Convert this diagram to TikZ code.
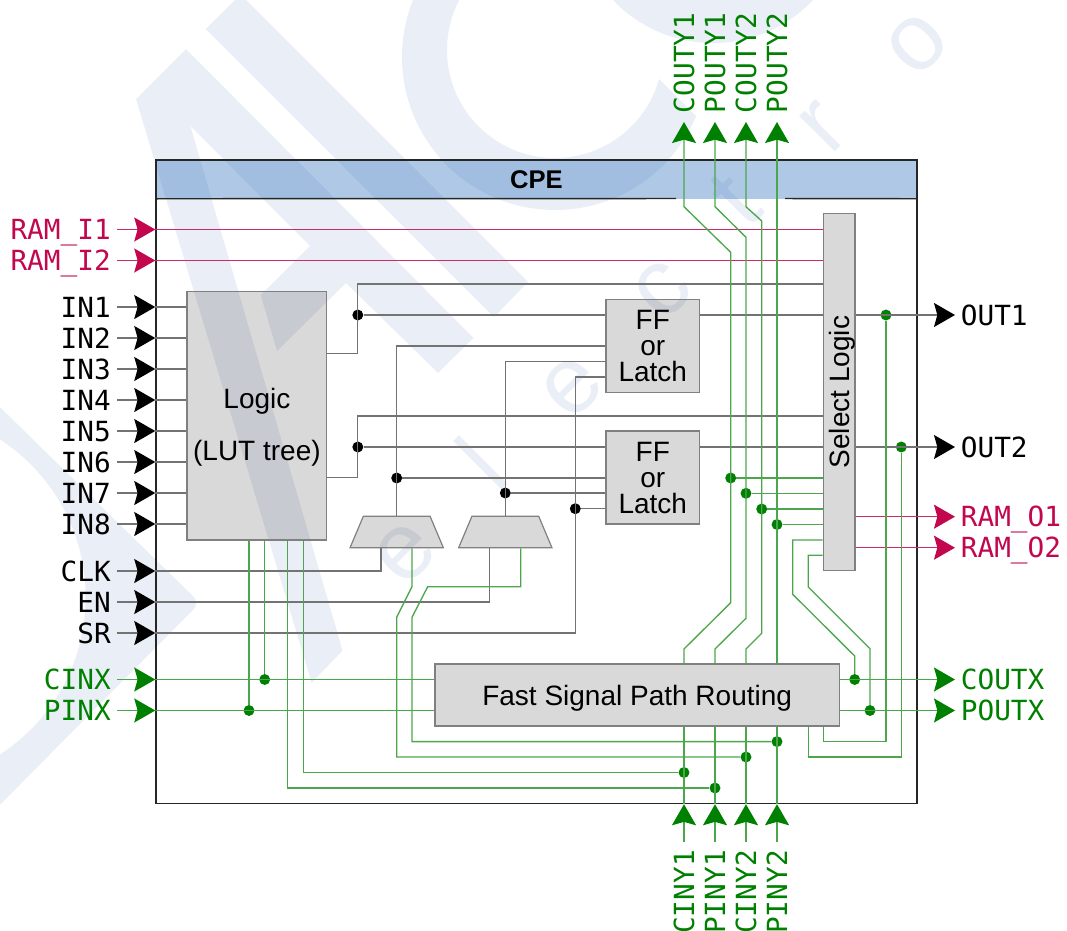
\documentclass[tikz,border=0pt]{standalone}
\usepackage{fontspec}
\usepackage{xcolor}
\usepackage{tikz}
\usetikzlibrary{arrows.meta,shapes.geometric}
\setmainfont{Liberation Sans}
\newfontfamily\pinfont{DejaVu Sans Mono}
\definecolor{wmblue}{HTML}{EAEEF6}
\definecolor{hdblue}{RGB}{52,117,192}
\definecolor{ramred}{HTML}{C2074F}
\definecolor{pingreen}{HTML}{008000}

\begin{document}
\begin{tikzpicture}[
    x=0.75pt, y=-0.75pt,
    >={Stealth[length=15.75pt,width=18pt,inset=2.5pt]},
    wm/.style={fill=wmblue, draw=none},
    wmtext/.style={text=wmblue, rotate=45, font=\fontsize{71pt}{71pt}\selectfont, inner sep=0pt},
    box/.style={rectangle, draw=black!50, line width=0.9pt, fill=black, fill opacity=0.15, text opacity=1, draw opacity=1, inner sep=0pt, align=center, font=\fontsize{21pt}{19.5pt}\selectfont},
    mux/.style={trapezium, trapezium stretches=true, trapezium left angle=63.7, trapezium right angle=63.7, draw=black!50, line width=0.9pt, fill=black, fill opacity=0.15, draw opacity=1, inner sep=0pt, minimum width=70pt, minimum height=23.5pt},
    pin/.style={font=\pinfont\fontsize{20.8pt}{24pt}\selectfont, text height=15pt, text depth=0pt},
    pinleft/.style={pin, anchor=east, inner sep=4.5pt},
    pinright/.style={pin, anchor=west, inner sep=4.2pt},
    pinup/.style={pin, rotate=90, anchor=west, inner sep=6.5pt},
    pindown/.style={pin, rotate=90, anchor=east, inner sep=6pt},
    sig/.style={draw=black!55, line width=1pt},
    grn/.style={draw=pingreen!70, line width=1pt},
    ram/.style={draw=ramred!85, line width=1pt},
    tipblack/.style={sig, arrows={-Stealth[length=15.75pt,width=18pt,inset=2.5pt,black]}},
    tipgreen/.style={grn, arrows={-Stealth[length=15.75pt,width=18pt,inset=2.5pt,pingreen]}},
    tipred/.style={ram, arrows={-Stealth[length=15.75pt,width=18pt,inset=2.5pt,ramred]}},
    dotblack/.style={circle, fill=black, inner sep=0pt, minimum size=8.2pt},
    dotgreen/.style={circle, fill=pingreen, inner sep=0pt, minimum size=8.2pt},
    frameline/.style={draw=black!85, line width=1.1pt}
]
    \useasboundingbox (0,0) rectangle (1067,931);

    % Watermark
    \begin{scope}
        \clip (0,0) rectangle (1067,931);
        \fill[wm] (-40,368) [rounded corners=7pt] -- (200,603) -- (-40,845) [sharp corners] -- cycle;
        \fill[white] (-102,597) circle [radius=187.5];
        \fill[wm] (136,99) -- (186,49) -- (473.5,338) -- (438,373) -- (346,283) -- (277,351) -- (260.7,295) -- (310,246) -- (190.4,126) -- (342.6,650.7) -- (311.6,682.7) -- cycle;
        \fill[wm] (205.6,29) -- (235,0) -- (246,0) -- (528,282) -- (494,317) -- cycle;
        \begin{scope}
            \clip (380,0) -- (560,0) -- (658,78) -- (720,140) -- (720,230) -- (380,230) -- cycle;
            \fill[wm, even odd rule] (555,57) circle [radius=153] (555,50) circle [radius=108];
        \end{scope}
        \fill[wm] (713,-95) circle [radius=138];
    \end{scope}
    \node[wmtext] (wme) at (405,553) {e};
    \node[wmtext] (wml) at (481,463) {l};
    \node[wmtext] (wmf) at (572,387) {e};
    \node[wmtext] (wmc) at (663,290) {c};
    \node[wmtext] (wmt) at (735,200) {t};
    \node[wmtext] (wmr) at (824,127) {r};
    \node[wmtext] (wmo) at (917,44) {o};

    % Frame and header
    \node[rectangle, fill=hdblue, fill opacity=0.4, text opacity=1, inner sep=0pt, minimum width=570.75pt, minimum height=28.5pt, font=\bfseries\fontsize{19.2pt}{24pt}\selectfont] (cpe) at (536.5,179.5) {CPE};
    \node[rectangle, frameline, minimum width=570.75pt, minimum height=482.6pt] (frame) at (536.5,481.75) {};
    \draw[frameline] (cpe.south west) -- (676,198.5);
    \draw[frameline] (785,198.5) -- (cpe.south east);

    % Blocks
    \node[box, minimum width=104.85pt, minimum height=186.2pt] (lut) at (256.9,415.8) {\rule{0pt}{33pt}Logic\\[18.5pt](LUT tree)};
    \node[box, minimum width=70.1pt, minimum height=69.75pt] (ff1) at (652.75,345.8) {FF\\or\\Latch};
    \node[box, minimum width=70.1pt, minimum height=69.75pt] (ff2) at (652.75,477.5) {FF\\or\\Latch};
    \node[box, rotate=90, text height=15pt, text depth=0pt, minimum width=267.9pt, minimum height=23.8pt] (sel) at (839.2,392.1) {Select Logic};
    \node[box, text height=15pt, text depth=0pt, minimum width=303.2pt, minimum height=46.5pt] (route) at (637.15,695) {Fast Signal Path Routing};
    \node[mux] (mux1) at (396.7,532) {\phantom{\rule{20pt}{8pt}}};
    \node[mux] (mux2) at (505.3,532) {\phantom{\rule{20pt}{8pt}}};

    % Left pins
    \node[pinleft, text=ramred] (rami1) at (117,229.5) {RAM\_I1};
    \node[pinleft, text=ramred] (rami2) at (117,260.5) {RAM\_I2};
    \node[pinleft] (in1) at (117,307) {IN1};
    \node[pinleft] (in2) at (117,338) {IN2};
    \node[pinleft] (in3) at (117,369) {IN3};
    \node[pinleft] (in4) at (117,400) {IN4};
    \node[pinleft] (in5) at (117,431) {IN5};
    \node[pinleft] (in6) at (117,462) {IN6};
    \node[pinleft] (in7) at (117,493) {IN7};
    \node[pinleft] (in8) at (117,524) {IN8};
    \node[pinleft] (clk) at (117,571) {CLK};
    \node[pinleft] (en) at (117,602) {EN};
    \node[pinleft] (sr) at (117,633) {SR};
    \node[pinleft, text=pingreen] (cinx) at (117,679.5) {CINX};
    \node[pinleft, text=pingreen] (pinx) at (117,710.5) {PINX};

    % Right pins
    \node[pinright] (out1) at (955,315) {OUT1};
    \node[pinright] (out2) at (955,447) {OUT2};
    \node[pinright, text=ramred] (ramo1) at (955,516.7) {RAM\_O1};
    \node[pinright, text=ramred] (ramo2) at (955,547.7) {RAM\_O2};
    \node[pinright, text=pingreen] (coutx) at (955,679.5) {COUTX};
    \node[pinright, text=pingreen] (poutx) at (955,710.5) {POUTX};

    % Top and bottom pins
    \node[pinup, text=pingreen] (couty1) at (684,122) {COUTY1};
    \node[pinup, text=pingreen] (pouty1) at (715,122) {POUTY1};
    \node[pinup, text=pingreen] (couty2) at (746,122) {COUTY2};
    \node[pinup, text=pingreen] (pouty2) at (777,122) {POUTY2};
    \node[pindown, text=pingreen] (ciny1) at (684,842) {CINY1};
    \node[pindown, text=pingreen] (piny1) at (715,842) {PINY1};
    \node[pindown, text=pingreen] (ciny2) at (746,842) {CINY2};
    \node[pindown, text=pingreen] (piny2) at (777,842) {PINY2};

    % Junctions
    \node[dotblack] (lut1dot) at (357.8,315) {};
    \node[dotblack] (lut2dot) at (357.8,447) {};
    \node[dotblack] (mux1dot) at (396.7,478) {};
    \node[dotblack] (mux2dot) at (505.3,493) {};
    \node[dotblack] (srdot) at (575.3,508.7) {};
    \node[dotgreen] (sel1dot) at (730.7,478) {};
    \node[dotgreen] (sel2dot) at (746,493.3) {};
    \node[dotgreen] (sel3dot) at (761.7,509) {};
    \node[dotgreen] (sel4dot) at (777,524.5) {};
    \node[dotgreen] (cinxdot) at (264.7,679.5) {};
    \node[dotgreen] (pinxdot) at (249,710.5) {};
    \node[dotgreen] (coutxdot) at (854.7,679.5) {};
    \node[dotgreen] (poutxdot) at (870,710.5) {};
    \node[dotgreen] (out1dot) at (886,315) {};
    \node[dotgreen] (out2dot) at (901.3,447) {};
    \node[dotgreen] (mux2in) at (777,741.6) {};
    \node[dotgreen] (mux1in) at (746,757) {};
    \node[dotgreen] (lutin1) at (684,772.5) {};
    \node[dotgreen] (lutin2) at (715,788) {};

    % RAM lines
    \draw[tipred] (rami1) -- (frame.west |- rami1);
    \draw[tipred] (rami2) -- (frame.west |- rami2);
    \draw[ram] (frame.west |- rami1) -- (sel.north |- rami1);
    \draw[ram] (frame.west |- rami2) -- (sel.north |- rami2);
    \draw[tipred] (sel.south |- ramo1) -- (ramo1);
    \draw[tipred] (sel.south |- ramo2) -- (ramo2);

    % Logic inputs
    \draw[tipblack] (in1) -- (frame.west |- in1);
    \draw[tipblack] (in2) -- (frame.west |- in2);
    \draw[tipblack] (in3) -- (frame.west |- in3);
    \draw[tipblack] (in4) -- (frame.west |- in4);
    \draw[tipblack] (in5) -- (frame.west |- in5);
    \draw[tipblack] (in6) -- (frame.west |- in6);
    \draw[tipblack] (in7) -- (frame.west |- in7);
    \draw[tipblack] (in8) -- (frame.west |- in8);
    \draw[sig] (frame.west |- in1) -- (lut.west |- in1);
    \draw[sig] (frame.west |- in2) -- (lut.west |- in2);
    \draw[sig] (frame.west |- in3) -- (lut.west |- in3);
    \draw[sig] (frame.west |- in4) -- (lut.west |- in4);
    \draw[sig] (frame.west |- in5) -- (lut.west |- in5);
    \draw[sig] (frame.west |- in6) -- (lut.west |- in6);
    \draw[sig] (frame.west |- in7) -- (lut.west |- in7);
    \draw[sig] (frame.west |- in8) -- (lut.west |- in8);

    % Control inputs
    \draw[tipblack] (clk) -- (frame.west |- clk);
    \draw[tipblack] (en) -- (frame.west |- en);
    \draw[tipblack] (sr) -- (frame.west |- sr);
    \draw[sig] (frame.west |- clk) -| (mux1.south -| 381,0);
    \draw[sig] (frame.west |- en) -| (mux2.south -| 489.7,0);
    \draw[sig] (frame.west |- sr) -| (srdot.center) -- (srdot.center |- 0,377) -- (ff1.west |- 0,377);
    \draw[sig] (srdot) -- (ff2.west |- srdot);

    % Logic and register paths
    \draw[sig] (lut.east |- 0,353.3) -| (lut1dot.center) -- (lut1dot.center |- 0,284) -- (sel.north |- 0,284);
    \draw[sig] (lut.east |- 0,477.7) -| (lut2dot.center) -- (lut2dot.center |- 0,416) -- (sel.north |- 0,416);
    \draw[sig] (lut1dot) -- (ff1.west |- lut1dot);
    \draw[sig] (lut2dot) -- (ff2.west |- lut2dot);
    \draw[sig] (ff1.east |- lut1dot) -- (sel.north |- lut1dot);
    \draw[sig] (ff2.east |- lut2dot) -- (sel.north |- lut2dot);
    \draw[sig] (mux1.north) -- (mux1.north |- 0,346) -- (ff1.west |- 0,346);
    \draw[sig] (mux2.north) -- (mux2.north |- 0,361.3) -- (ff1.west |- 0,361.3);
    \draw[sig] (mux1dot) -- (ff2.west |- mux1dot);
    \draw[sig] (mux2dot) -- (ff2.west |- mux2dot);
    \draw[tipblack] (sel.south |- out1) -- (out1);
    \draw[tipblack] (sel.south |- out2) -- (out2);

    % Carry and propagate inputs
    \draw[tipgreen] (cinx) -- (frame.west |- cinx);
    \draw[tipgreen] (pinx) -- (frame.west |- pinx);
    \draw[grn] (frame.west |- cinx) -- (route.west |- cinx);
    \draw[grn] (frame.west |- pinx) -- (route.west |- pinx);
    \draw[grn] (cinxdot.center |- lut.south) -- (cinxdot);
    \draw[grn] (pinxdot.center |- lut.south) -- (pinxdot);
    \draw[grn] (lut.south -| 303.3,0) |- (lutin1);
    \draw[grn] (lut.south -| 287.7,0) |- (lutin2);
    \draw[grn] (mux1.south -| 412,0) -- (412,586.7) -- (396.7,617.3) |- (mux1in);
    \draw[grn] (mux2.south -| 520.7,0) |- (427.7,586.7) -- (412,617.3) |- (mux2in);

    % Right side routing
    \draw[tipgreen] (route.east |- coutx) -- (coutx);
    \draw[tipgreen] (route.east |- poutx) -- (poutx);
    \draw[grn] (sel.north |- 0,540) -- (792.7,540) -- (792.7,594.3) -- (854.7,656) -- (coutxdot);
    \draw[grn] (sel.north |- 0,555.3) -- (808.3,555.3) -- (808.3,587) -- (870,648.7) -- (poutxdot);
    \draw[grn] (out1dot) -- (886,741.6) -- (823.3,741.6) -- (route.south -| 823.3,0);
    \draw[grn] (out2dot) -- (901.3,757) -- (808.3,757) -- (route.south -| 808.3,0);

    % Vertical pins
    \draw[tipgreen] (route.north -| 684,0) -- (684,649) -- (730.7,602.7) -- (730.7,252.3) -- (684,206.7) -- (couty1);
    \draw[tipgreen] (route.north -| 715,0) -- (715,649) -- (746,618.3) -- (746,237.3) -- (715,206.7) -- (pouty1);
    \draw[tipgreen] (route.north -| 746,0) -- (746,649) -- (761.7,633.3) -- (761.7,221) -- (746,206.7) -- (couty2);
    \draw[tipgreen] (route.north -| 777,0) -- (pouty2);
    \draw[grn] (sel1dot) -- (sel.north |- sel1dot);
    \draw[grn] (sel2dot) -- (sel.north |- sel2dot);
    \draw[grn] (sel3dot) -- (sel.north |- sel3dot);
    \draw[grn] (sel4dot) -- (sel.north |- sel4dot);
    \draw[tipgreen] (ciny1) -- (ciny1 |- frame.south);
    \draw[tipgreen] (piny1) -- (piny1 |- frame.south);
    \draw[tipgreen] (ciny2) -- (ciny2 |- frame.south);
    \draw[tipgreen] (piny2) -- (piny2 |- frame.south);
    \draw[grn] (ciny1 |- frame.south) -- (ciny1 |- route.south);
    \draw[grn] (piny1 |- frame.south) -- (piny1 |- route.south);
    \draw[grn] (ciny2 |- frame.south) -- (ciny2 |- route.south);
    \draw[grn] (piny2 |- frame.south) -- (piny2 |- route.south);
\end{tikzpicture}
\end{document}
